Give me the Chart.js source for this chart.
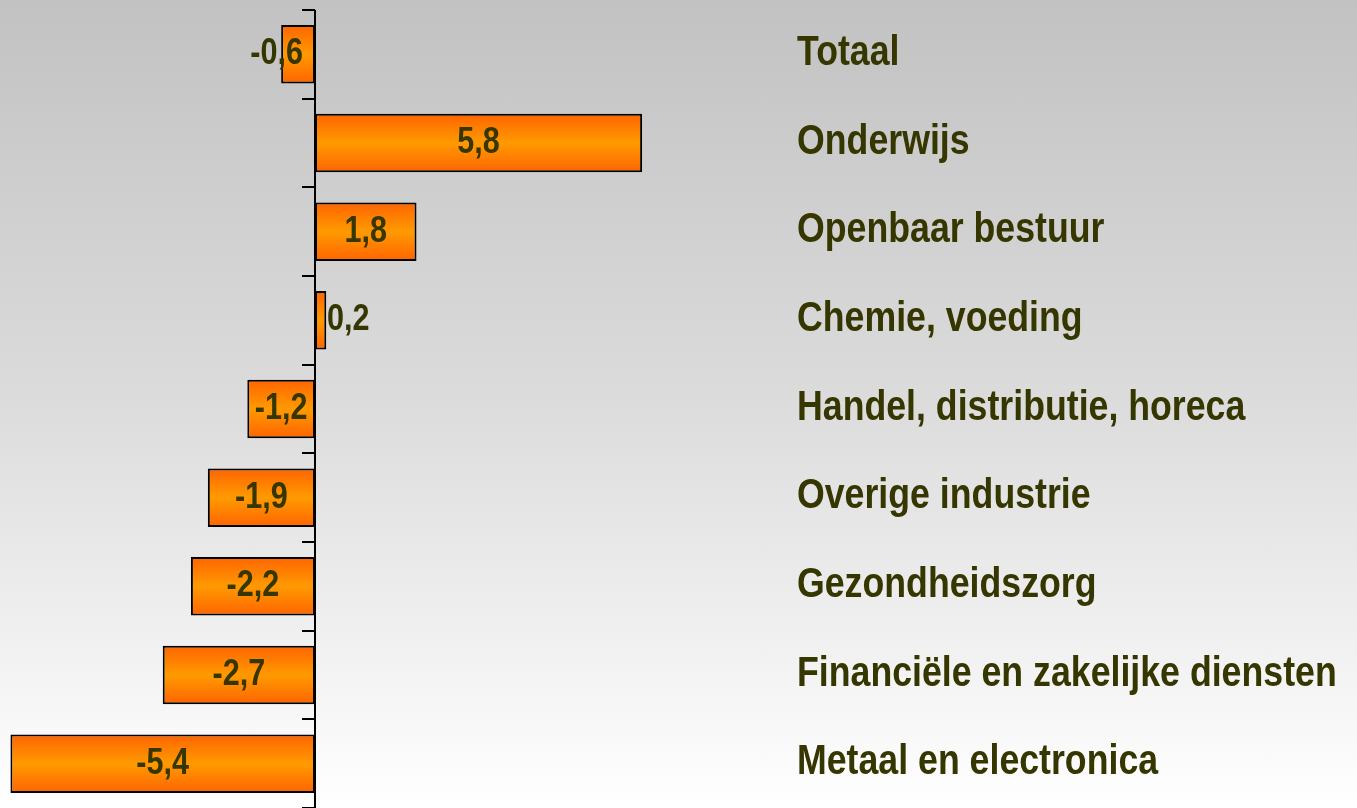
<!DOCTYPE html>
<html>
<head>
<meta charset="utf-8">
<script src="https://cdn.jsdelivr.net/npm/chart.js@4/dist/chart.umd.min.js"></script>
<style>
  html, body { margin: 0; padding: 0; }
  body { width: 1357px; height: 808px; overflow: hidden;
         background: linear-gradient(to bottom, #c2c2c2 0%, #dcdcdc 50%, #ffffff 100%); }
  #wrap { position: relative; width: 1357px; height: 808px; }
</style>
</head>
<body>
<div id="wrap"><canvas id="chart"></canvas></div>
<script>
const categories = ["Totaal", "Onderwijs", "Openbaar bestuur", "Chemie, voeding",
  "Handel, distributie, horeca", "Overige industrie", "Gezondheidszorg",
  "Financiële en zakelijke diensten", "Metaal en electronica"];
const values = [-0.6, 5.8, 1.8, 0.2, -1.2, -1.9, -2.2, -2.7, -5.4];

const textColor = "#363600";
const fontFam = "'Liberation Sans Narrow', 'Arial Narrow', 'Liberation Sans', Arial, sans-serif";
const narrow = 0.85; // squeeze text horizontally, no narrow font installed

// draw a text squeezed horizontally; align 'left' or 'center'
function narrowText(ctx, txt, x, y, align) {
  const w = ctx.measureText(txt).width * narrow;
  const left = align === "center" ? x - w / 2 : x;
  ctx.save();
  ctx.translate(left, y);
  ctx.scale(narrow, 1);
  ctx.textAlign = "left";
  ctx.fillText(txt, 0, 0);
  ctx.restore();
  return w;
}

// orange vertical gradient per bar (options are shared, so copy them)
const gradientPlugin = {
  id: "barGradient",
  beforeDatasetsDraw(chart) {
    const meta = chart.getDatasetMeta(0);
    meta.data.forEach(bar => {
      const top = bar.y - bar.height / 2, bot = bar.y + bar.height / 2;
      const g = chart.ctx.createLinearGradient(0, top, 0, bot);
      g.addColorStop(0, "#ff6400");
      g.addColorStop(0.5, "#ff9a00");
      g.addColorStop(1, "#ff6400");
      bar.options = Object.assign({}, bar.options, { backgroundColor: g });
    });
  }
};

// zero line with short ticks between categories
const axisPlugin = {
  id: "zeroAxis",
  afterDatasetsDraw(chart) {
    const { ctx, scales: { x }, chartArea } = chart;
    const x0 = Math.round(x.getPixelForValue(0));
    const band = (chartArea.bottom - chartArea.top) / categories.length;
    ctx.save();
    ctx.strokeStyle = "#000";
    ctx.lineWidth = 2;
    ctx.beginPath();
    ctx.moveTo(x0, chartArea.top);
    ctx.lineTo(x0, chartArea.bottom + 5);
    for (let i = 0; i <= categories.length; i++) {
      const yy = Math.round(chartArea.top + i * band);
      ctx.moveTo(x0 - 13, yy);
      ctx.lineTo(x0, yy);
    }
    ctx.stroke();
    ctx.restore();
  }
};

const labelPlugin = {
  id: "labels",
  afterDraw(chart) {
    const { ctx, scales: { x, y }, chartArea } = chart;
    const meta = chart.getDatasetMeta(0);
    const x0 = x.getPixelForValue(0);
    ctx.save();
    ctx.fillStyle = textColor;
    ctx.textBaseline = "middle";
    // value labels
    ctx.font = "bold 36px " + fontFam;
    meta.data.forEach((bar, i) => {
      const txt = values[i].toFixed(1).replace(".", ",");
      const w = ctx.measureText(txt).width * narrow;
      const barW = Math.abs(bar.x - x0);
      let cx;
      if (w + 6 < barW) cx = (bar.x + x0) / 2;
      else if (values[i] < 0) cx = x0 - 12 - w / 2;
      else cx = x0 + 12 + w / 2;
      narrowText(ctx, txt, cx, bar.y, "center");
    });
    // category labels, placed by the y scale
    ctx.font = "bold 42px " + fontFam;
    categories.forEach((c, i) => {
      narrowText(ctx, c, chartArea.right, y.getPixelForValue(i) - 1, "left");
    });
    ctx.restore();
  }
};

new Chart(document.getElementById("chart"), {
  type: "bar",
  data: {
    labels: categories,
    datasets: [{
      data: values,
      backgroundColor: "#ff8800",
      borderColor: "#000",
      borderWidth: 2,
      borderSkipped: false,
      barPercentage: 0.66,
      categoryPercentage: 1
    }]
  },
  options: {
    indexAxis: "y",
    responsive: true,
    maintainAspectRatio: false,
    animation: false,
    layout: { padding: { top: 10, left: 0, right: 0, bottom: 0 } },
    plugins: { legend: { display: false }, tooltip: { enabled: false } },
    scales: {
      x: {
        display: false,
        min: -5.585,
        max: 8.546
      },
      y: {
        position: "right",
        grid: { display: false, drawTicks: false },
        border: { display: false },
        afterFit(scale) { scale.width = 560; },
        ticks: { display: false }
      }
    }
  },
  plugins: [gradientPlugin, axisPlugin, labelPlugin]
});
</script>
</body>
</html>
